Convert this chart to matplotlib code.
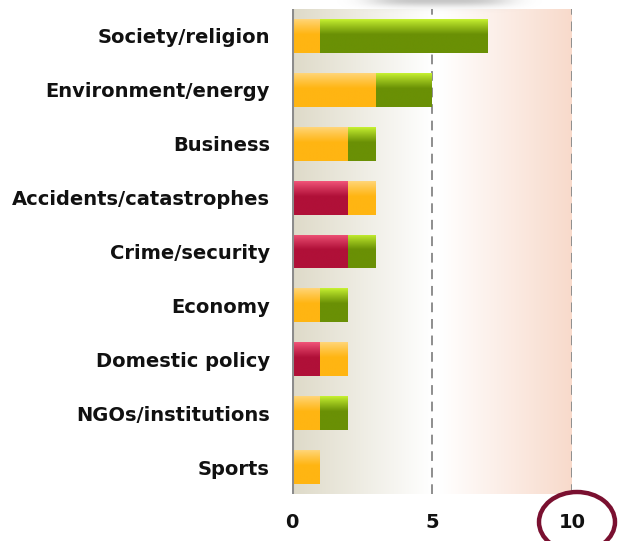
import numpy as np
import matplotlib
matplotlib.use("Agg")
import matplotlib.pyplot as plt
from matplotlib.colors import LinearSegmentedColormap, to_rgb
from matplotlib.patches import Ellipse

categories = [
    "Society/religion", "Environment/energy", "Business",
    "Accidents/catastrophes", "Crime/security", "Economy",
    "Domestic policy", "NGOs/institutions", "Sports",
]
negative = [0, 0, 0, 2, 2, 0, 1, 0, 0]
neutral = [1, 3, 2, 1, 0, 1, 1, 1, 1]
positive = [6, 2, 1, 0, 1, 1, 0, 1, 0]
x_ticks = [0, 5, 10]

# (solid colour, light top colour)
styles = {
    "negative": ("#B01038", "#F2567A"),
    "neutral": ("#FFB512", "#FFD67A"),
    "positive": ("#6A9005", "#C8F232"),
}

fig = plt.figure(figsize=(6.18, 5.41), dpi=100)
ax = fig.add_axes([292 / 618, 1 - 494 / 541, 280 / 618, 485 / 541])
n = len(categories)

# background bands
left_cmap = LinearSegmentedColormap.from_list("l", ["#DEDAC8", "#FFFFFF"])
right_cmap = LinearSegmentedColormap.from_list(
    "r", [(0, "#FFFFFF"), (0.06, "#FFFFFF"), (1, "#F8DACB")])
grad = np.linspace(0, 1, 256).reshape(1, -1)
ax.imshow(grad, cmap=left_cmap, extent=[0, 5, n - 0.5, -0.5],
          aspect="auto", zorder=0)
ax.imshow(grad, cmap=right_cmap, extent=[5, 10, n - 0.5, -0.5],
          aspect="auto", zorder=0)

bar_h = 0.63
y = np.arange(n)


def gradient_bar(yc, left, width, kind):
    if width <= 0:
        return
    solid, light = styles[kind]
    rect = ax.barh(yc, width, left=left, height=bar_h, color=solid,
                   edgecolor="none", zorder=2)[0]
    c0, c1 = np.array(to_rgb(light)), np.array(to_rgb(solid))
    t = np.linspace(0, 1, 100)
    w = np.clip(t / 0.45, 0, 1)[:, None] ** 0.9
    img = (c0 * (1 - w) + c1 * w)[:, None, :]
    im = ax.imshow(img, extent=[left, left + width, yc + bar_h / 2, yc - bar_h / 2],
                   aspect="auto", zorder=3, interpolation="bilinear")
    im.set_clip_path(rect)


for i in range(n):
    start = 0
    for kind, vals in (("negative", negative), ("neutral", neutral), ("positive", positive)):
        gradient_bar(y[i], start, vals[i], kind)
        start += vals[i]

ax.set_xlim(0, 10)
ax.set_ylim(n - 0.5, -0.5)

for xv in (5, 10):
    ax.axvline(xv, color="#8E8E8E", lw=1.4, ls=(0, (5, 3.5)), zorder=1)
ax.axvline(0, color="#8C8C8C", lw=2.2, zorder=4)

for s in ax.spines.values():
    s.set_visible(False)

ax.set_yticks(y)
ax.set_yticklabels(categories, fontsize=14, fontweight="bold", color="#111111")
ax.set_xticks(x_ticks)
ax.set_xticklabels([str(v) for v in x_ticks], fontsize=14, fontweight="bold",
                   color="#111111")
ax.tick_params(axis="y", length=0, pad=16)
ax.tick_params(axis="x", length=0, pad=14)

# soft shadow along the top edge
sh = fig.add_axes([0.53, 1 - 14 / 541, 0.36, 14 / 541])
xx = np.linspace(-1, 1, 200)
yy = np.linspace(0, 1, 20)
X, Y = np.meshgrid(xx, yy)
alpha = np.exp(-(X * 1.6) ** 4) * np.exp(-(Y * 2.2) ** 2) * 0.5
rgba = np.zeros(X.shape + (4,))
rgba[..., :3] = 0.55
rgba[..., 3] = alpha
sh.imshow(rgba, aspect="auto", extent=[0, 1, 0, 1], origin="upper")
sh.set_axis_off()

# highlight ring round the 10 label
fig.patches.append(Ellipse((577 / 618, 1 - 522 / 541), 76 / 618, 60 / 541,
                           transform=fig.transFigure, fill=False,
                           edgecolor="#7A1030", lw=3.2, zorder=10))

fig.savefig("out.png", dpi=100)
